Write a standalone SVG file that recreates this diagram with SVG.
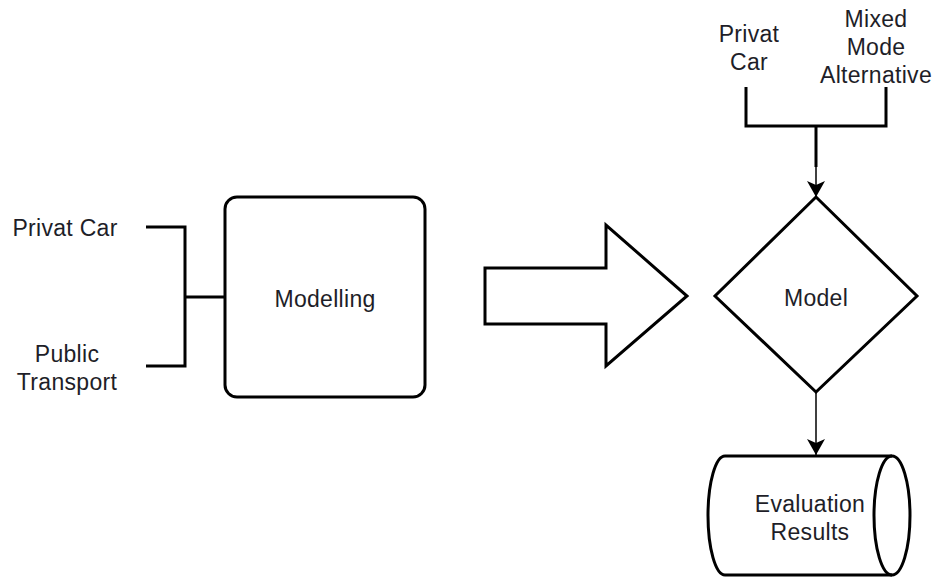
<svg xmlns="http://www.w3.org/2000/svg" width="936" height="581" viewBox="0 0 936 581">
  <defs>
    <style>
      .shape { fill: #ffffff; stroke: #000000; stroke-width: 3; stroke-linejoin: miter; }
      .wire { fill: none; stroke: #000000; stroke-width: 3; }
      .thin { fill: none; stroke: #000000; stroke-width: 1.5; }
      .label { font-family: "Liberation Sans", Arial, sans-serif; font-size: 23px; letter-spacing: 0.3px; fill: #1e1e28; text-anchor: middle; }
    </style>
    <marker id="head" viewBox="0 0 16 18" refX="16" refY="9" markerWidth="16" markerHeight="18" markerUnits="userSpaceOnUse" orient="auto">
      <path d="M0,0 L16,9 L0,18 L4,9 Z" fill="#000000"/>
    </marker>
  </defs>
  <rect width="936" height="581" fill="#ffffff"/>

  <!-- inputs on the left -->
  <g id="input-privat-car">
    <text class="label" x="65" y="236">Privat Car</text>
  </g>
  <g id="input-public-transport">
    <text class="label" x="67" y="362">Public</text>
    <text class="label" x="67" y="390">Transport</text>
  </g>

  <!-- modelling step -->
  <g id="modelling">
    <rect class="shape" x="225" y="197" width="200" height="200" rx="12" ry="12"/>
    <text class="label" x="325" y="307">Modelling</text>
  </g>

  <!-- block arrow -->
  <g id="transition">
    <path class="shape" d="M485,268 L606,268 L606,225 L687,296 L606,366 L606,324 L485,324 Z"/>
  </g>

  <!-- inputs on the right -->
  <g id="alt-privat-car">
    <text class="label" x="749" y="42">Privat</text>
    <text class="label" x="749" y="70">Car</text>
  </g>
  <g id="alt-mixed-mode">
    <text class="label" x="876" y="27">Mixed</text>
    <text class="label" x="876" y="55">Mode</text>
    <text class="label" x="876" y="83">Alternative</text>
  </g>

  <!-- model decision -->
  <g id="model">
    <path class="shape" d="M816,197 L917,296 L816,392 L715,296 Z"/>
    <text class="label" x="816" y="306">Model</text>
  </g>

  <!-- evaluation results store -->
  <g id="evaluation-results">
    <path class="shape" d="M725,456 L892,456 A18,59.5 0 0 1 892,575 L725,575 A17,59.5 0 0 1 725,456 Z"/>
    <path class="wire" d="M892,456 A18,59.5 0 0 0 892,575"/>
    <text class="label" x="810" y="512">Evaluation</text>
    <text class="label" x="810" y="540">Results</text>
  </g>

  <!-- connectors -->
  <g id="connectors">
    <path class="wire" d="M146,227 L185,227 L185,366 L146,366"/>
    <path class="wire" d="M185,297 L225,297"/>
    <path class="wire" d="M746,87 L746,126 L886,126 L886,87"/>
    <path class="wire" d="M816,126 L816,167"/>
    <path class="thin" d="M816,167 L816,197" marker-end="url(#head)"/>
    <path class="thin" d="M816,393 L816,455" marker-end="url(#head)"/>
  </g>
</svg>
